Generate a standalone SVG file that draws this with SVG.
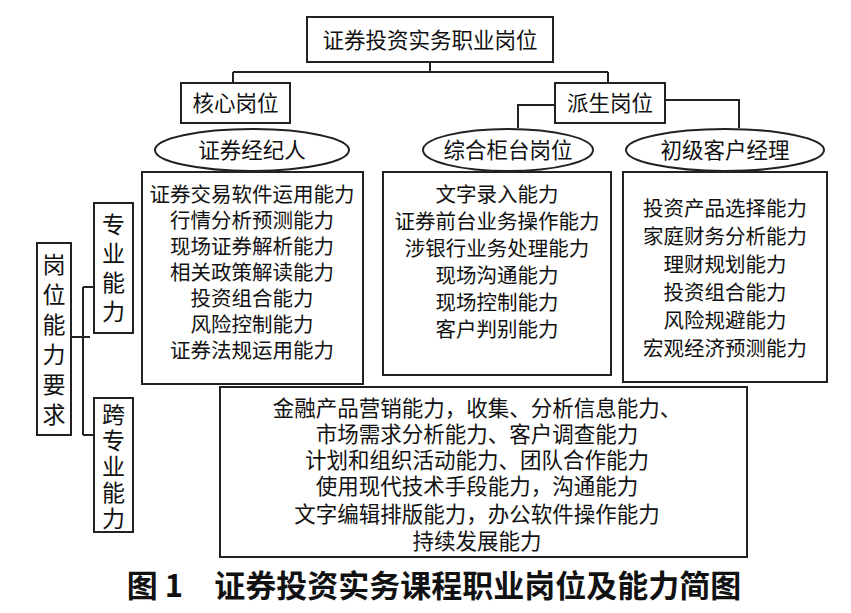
<svg xmlns="http://www.w3.org/2000/svg" width="851" height="613" viewBox="0 0 851 613">
<style>
.b{fill:#fff;stroke:#222;stroke-width:2}
.l{fill:none;stroke:#222;stroke-width:2}
text{font-family:"Liberation Serif","Noto Sans CJK SC",serif;font-size:20.5px;fill:#111;text-anchor:middle}
.h{font-size:21.5px}
.v{font-size:23px}
.cap{font-family:"Noto Sans CJK SC",sans-serif;font-size:31px;font-weight:bold}
</style>
<rect width="851" height="613" fill="#fff"/>
<g id="connectors" class="l">
<path d="M430 62V72M233 72H608M233 72V83M608 72V83"/>
<path d="M555 105H518V128M665 100H739V128"/>
<path d="M71 337H90M83 287V435M83 287H94M83 435H94"/>
</g>
<g id="top"><rect class="b" x="307" y="17" width="246" height="45"/><text class="h" x="430" y="48">证券投资实务职业岗位</text></g>
<g id="core"><rect class="b" x="181" y="83" width="109" height="40"/><text class="h" x="235.5" y="111">核心岗位</text></g>
<g id="derived"><rect class="b" x="555" y="83" width="110" height="40"/><text class="h" x="610" y="111">派生岗位</text></g>
<g id="broker"><ellipse class="b" cx="252" cy="150" rx="97" ry="21"/><text class="h" x="252" y="158">证券经纪人</text></g>
<g id="counter"><ellipse class="b" cx="508" cy="150" rx="85" ry="21"/><text class="h" x="508" y="158">综合柜台岗位</text></g>
<g id="manager"><ellipse class="b" cx="725" cy="150" rx="99" ry="21"/><text class="h" x="725" y="158">初级客户经理</text></g>
<g id="skills1"><rect class="b" x="142" y="172" width="221" height="212"/>
<text x="252" y="202">证券交易软件运用能力</text><text x="252" y="228">行情分析预测能力</text><text x="252" y="254">现场证券解析能力</text><text x="252" y="280">相关政策解读能力</text><text x="252" y="306">投资组合能力</text><text x="252" y="332">风险控制能力</text><text x="252" y="358">证券法规运用能力</text></g>
<g id="skills2"><rect class="b" x="383" y="172" width="228" height="203"/>
<text x="497" y="202">文字录入能力</text><text x="497" y="229">证券前台业务操作能力</text><text x="497" y="256">涉银行业务处理能力</text><text x="497" y="283">现场沟通能力</text><text x="497" y="310">现场控制能力</text><text x="497" y="337">客户判别能力</text></g>
<g id="skills3"><rect class="b" x="623" y="172" width="204" height="210"/>
<text x="725" y="216">投资产品选择能力</text><text x="725" y="244">家庭财务分析能力</text><text x="725" y="272">理财规划能力</text><text x="725" y="300">投资组合能力</text><text x="725" y="328">风险规避能力</text><text x="725" y="356">宏观经济预测能力</text></g>
<g id="cross"><rect class="b" x="220" y="387" width="527" height="170"/>
<text class="h" x="477" y="416">金融产品营销能力，收集、分析信息能力、</text><text class="h" x="477" y="442">市场需求分析能力、客户调查能力</text><text class="h" x="477" y="468">计划和组织活动能力、团队合作能力</text><text class="h" x="477" y="494">使用现代技术手段能力，沟通能力</text><text class="h" x="477" y="522">文字编辑排版能力，办公软件操作能力</text><text class="h" x="477" y="549">持续发展能力</text></g>
<g id="req"><rect class="b" x="37" y="243" width="34" height="192"/>
<text class="v" x="54" y="273">岗</text><text class="v" x="54" y="303">位</text><text class="v" x="54" y="333">能</text><text class="v" x="54" y="363">力</text><text class="v" x="54" y="393">要</text><text class="v" x="54" y="423">求</text></g>
<g id="prof"><rect class="b" x="94" y="203" width="39" height="130"/>
<text class="v" x="113.5" y="233">专</text><text class="v" x="113.5" y="262">业</text><text class="v" x="113.5" y="291">能</text><text class="v" x="113.5" y="320">力</text></g>
<g id="crossprof"><rect class="b" x="94" y="398" width="39" height="134"/>
<text class="v" x="113.5" y="423">跨</text><text class="v" x="113.5" y="449">专</text><text class="v" x="113.5" y="475">业</text><text class="v" x="113.5" y="501">能</text><text class="v" x="113.5" y="527">力</text></g>
<text class="cap" x="434" y="597">图 1　证券投资实务课程职业岗位及能力简图</text>
</svg>
